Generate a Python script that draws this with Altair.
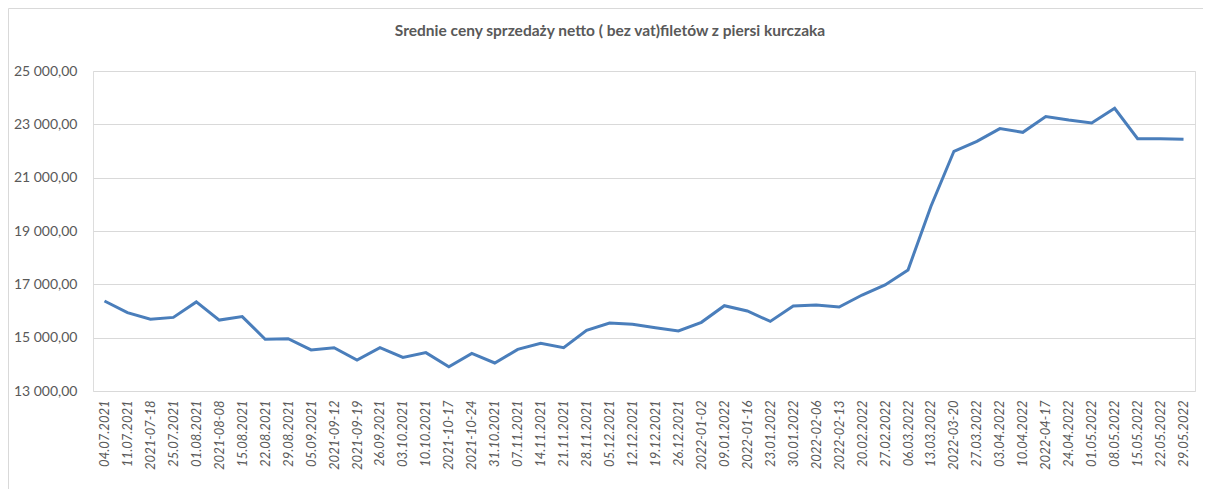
import altair as alt
import pandas as pd

dates = ["04.07.2021", "11.07.2021", "2021-07-18", "25.07.2021", "01.08.2021", "2021-08-08",
         "15.08.2021", "22.08.2021", "29.08.2021", "05.09.2021", "2021-09-12", "2021-09-19",
         "26.09.2021", "03.10.2021", "10.10.2021", "2021-10-17", "2021-10-24", "31.10.2021",
         "07.11.2021", "14.11.2021", "21.11.2021", "28.11.2021", "05.12.2021", "12.12.2021",
         "19.12.2021", "26.12.2021", "2022-01-02", "09.01.2022", "2022-01-16", "23.01.2022",
         "30.01.2022", "2022-02-06", "2022-02-13", "20.02.2022", "27.02.2022", "06.03.2022",
         "13.03.2022", "2022-03-20", "27.03.2022", "03.04.2022", "10.04.2022", "2022-04-17",
         "24.04.2022", "01.05.2022", "08.05.2022", "15.05.2022", "22.05.2022", "29.05.2022"]

prices = [16375, 15940, 15690, 15760, 16340, 15660,
          15790, 14940, 14960, 14540, 14625, 14160,
          14625, 14260, 14440, 13910, 14410, 14050,
          14560, 14790, 14625, 15275, 15550, 15500,
          15375, 15250, 15575, 16200, 16000, 15610,
          16190, 16225, 16150, 16600, 16975, 17540,
          19930, 21990, 22360, 22840, 22700, 23290,
          23160, 23050, 23600, 22460, 22460, 22440]

y_ticks = [13000, 15000, 17000, 19000, 21000, 23000, 25000]

title_text = "Srednie ceny sprzedaży netto ( bez vat)filetów z piersi kurczaka"

df = pd.DataFrame({"date": dates, "price": prices})

TEXT = "#595959"
FONT = "Lato"

one = pd.DataFrame({"k": [0]})

border = alt.Chart(one).mark_rect(
    fill=None, stroke="#d9d9d9", strokeWidth=1
).encode(
    x=alt.value(-84.5), x2=alt.value(3000), y=alt.value(-62.5), y2=alt.value(3000)
)

title = alt.Chart(one).mark_text(
    text=title_text, font=FONT, fontSize=15.5, fontWeight="bold", color=TEXT,
    align="center", baseline="middle"
).encode(x=alt.value(517), y=alt.value(-40))

line = alt.Chart(df).mark_line(color="#4a7ebb", strokeWidth=3, strokeJoin="miter").encode(
    x=alt.X("date:N", sort=None, title=None,
            scale=alt.Scale(type="point", padding=0.5),
            axis=alt.Axis(labelAngle=270, labelFont=FONT, labelFontStyle="italic",
                          labelFontSize=13, labelColor=TEXT, labelOverlap=False,
                          labelPadding=9, ticks=False, domain=False, grid=False)),
    y=alt.Y("price:Q", title=None,
            scale=alt.Scale(domain=[13000, 25000], nice=False, zero=False),
            axis=alt.Axis(values=y_ticks, labelFont=FONT, labelFontSize=14, labelColor=TEXT,
                          labelExpr="replace(replace(format(datum.value, ',.2f'), ',', ' '), '.', ',')",
                          labelPadding=16, ticks=False, domain=False,
                          grid=True, gridColor="#d9d9d9", gridWidth=1))
)

chart = alt.layer(border, title, line).properties(
    width=1102, height=320,
    padding={"left": 85, "top": 63, "right": 8, "bottom": 98},
    autosize=alt.AutoSizeParams(type="none"),
).configure_view(stroke=None).configure(background="white")

chart.save("out.html", embed_options={"renderer": "svg", "actions": False})
